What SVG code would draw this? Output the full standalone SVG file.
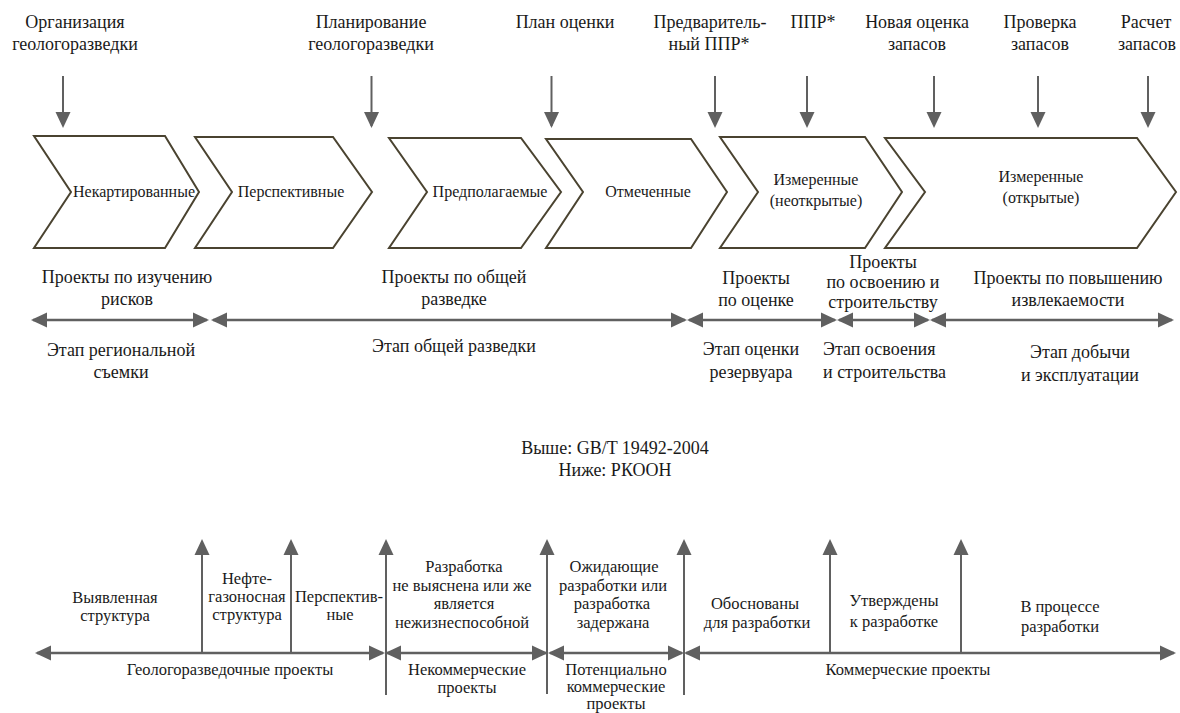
<svg xmlns="http://www.w3.org/2000/svg" width="1180" height="713" viewBox="0 0 1180 713" font-family="'Liberation Serif', 'DejaVu Serif', serif">
<defs>
<style>
text { font-family: 'Liberation Serif', 'DejaVu Serif', serif; fill: #1a1a1a; }
.lbl { font-size: 18px; text-anchor: middle; }
.ct { font-size: 16px; text-anchor: middle; }
.bt { font-size: 16.5px; text-anchor: middle; }
.chev { fill: #ffffff; stroke: #4a4330; stroke-width: 2; stroke-linejoin: miter; }
.va { stroke: #606060; stroke-width: 2; fill: none; }
.ha { stroke: #606060; stroke-width: 2.5; fill: none; }
</style>
<marker id="ah" viewBox="0 0 16 16" refX="14" refY="8" markerWidth="16" markerHeight="16" markerUnits="userSpaceOnUse" orient="auto-start-reverse">
<path d="M0,0.5 L16,8 L0,15.5 Z" fill="#606060"/>
</marker>
</defs>
<rect width="1180" height="713" fill="#ffffff"/>

<!-- top labels -->
<g id="top-labels">
<g id="lbl-org"><text class="lbl" x="75" y="28">Организация</text><text class="lbl" x="75" y="50">геологоразведки</text></g>
<g id="lbl-plan"><text class="lbl" x="371" y="28">Планирование</text><text class="lbl" x="371" y="50">геологоразведки</text></g>
<g id="lbl-ocenka"><text class="lbl" x="565" y="28">План оценки</text></g>
<g id="lbl-prppr"><text class="lbl" x="710" y="28">Предваритель-</text><text class="lbl" x="709" y="50">ный ППР*</text></g>
<g id="lbl-ppr"><text class="lbl" x="813" y="28">ППР*</text></g>
<g id="lbl-new"><text class="lbl" x="917" y="28">Новая оценка</text><text class="lbl" x="917" y="50">запасов</text></g>
<g id="lbl-check"><text class="lbl" x="1040" y="28">Проверка</text><text class="lbl" x="1040" y="50">запасов</text></g>
<g id="lbl-calc"><text class="lbl" x="1146" y="28">Расчет</text><text class="lbl" x="1147" y="50">запасов</text></g>
</g>

<!-- chevrons -->
<g id="chev-1"><polygon class="chev" points="34,136 165,136 199,192 165,248 34,248 71,192"/><text class="ct" x="134" y="197">Некартированные</text></g>
<g id="chev-2"><polygon class="chev" points="195,137 333,137 372,192 333,248 195,248 232,192"/><text class="ct" x="291" y="197">Перспективные</text></g>
<g id="chev-3"><polygon class="chev" points="389,138 521,138 561,192 521,248 389,248 427,192"/><text class="ct" x="490" y="197">Предполагаемые</text></g>
<g id="chev-4"><polygon class="chev" points="546,139 691,139 727,192 691,248 546,248 583,192"/><text class="ct" x="648" y="197">Отмеченные</text></g>
<g id="chev-5"><polygon class="chev" points="720,137 865,137 902,192 865,248 720,248 758,192"/><text class="ct" x="816" y="185">Измеренные</text><text class="ct" x="816" y="206">(неоткрытые)</text></g>
<g id="chev-6"><polygon class="chev" points="885,138 1137,138 1176,192 1137,248 885,248 925,192"/><text class="ct" x="1041" y="182">Измеренные</text><text class="ct" x="1041" y="203">(открытые)</text></g>

<!-- middle project labels -->
<g id="proj-risk"><text class="lbl" x="127" y="283">Проекты по изучению</text><text class="lbl" x="127" y="305">рисков</text></g>
<g id="proj-general"><text class="lbl" x="454" y="283">Проекты по общей</text><text class="lbl" x="454" y="305">разведке</text></g>
<g id="proj-eval"><text class="lbl" x="756" y="284">Проекты</text><text class="lbl" x="756" y="306">по оценке</text></g>
<g id="proj-build"><text class="lbl" x="883" y="268">Проекты</text><text class="lbl" x="883" y="288">по освоению и</text><text class="lbl" x="883" y="308">строительству</text></g>
<g id="proj-recov"><text class="lbl" x="1068" y="284">Проекты по повышению</text><text class="lbl" x="1068" y="306">извлекаемости</text></g>

<!-- stage labels -->
<g id="stage-reg"><text class="lbl" x="121" y="356">Этап региональной</text><text class="lbl" x="121" y="378">съемки</text></g>
<g id="stage-gen"><text class="lbl" x="454" y="352">Этап общей разведки</text></g>
<g id="stage-eval"><text class="lbl" x="751" y="355">Этап оценки</text><text class="lbl" x="751" y="378">резервуара</text></g>
<g id="stage-build"><text class="lbl" x="823" y="355" style="text-anchor:start">Этап освоения</text><text class="lbl" x="823" y="378" style="text-anchor:start">и строительства</text></g>
<g id="stage-prod"><text class="lbl" x="1080" y="358">Этап добычи</text><text class="lbl" x="1080" y="381">и эксплуатации</text></g>

<!-- legend -->
<g id="legend"><text class="lbl" x="615" y="454">Выше: GB/T 19492-2004</text><text class="lbl" x="615" y="476">Ниже: РКООН</text></g>

<!-- bottom labels -->
<g id="b-struct"><text class="bt" x="115" y="603">Выявленная</text><text class="bt" x="115" y="621">структура</text></g>
<g id="b-oilgas"><text class="bt" x="247" y="584">Нефте-</text><text class="bt" x="247" y="602">газоносная</text><text class="bt" x="247" y="620">структура</text></g>
<g id="b-persp"><text class="bt" x="339" y="602">Перспектив-</text><text class="bt" x="340" y="620">ные</text></g>
<g id="b-unclear"><text class="bt" x="464" y="572">Разработка</text><text class="bt" x="462" y="591">не выяснена или же</text><text class="bt" x="464" y="609">является</text><text class="bt" x="462" y="628">нежизнеспособной</text></g>
<g id="b-pending"><text class="bt" x="614" y="572">Ожидающие</text><text class="bt" x="613" y="591">разработки или</text><text class="bt" x="612" y="609">разработка</text><text class="bt" x="613" y="628">задержана</text></g>
<g id="b-justified"><text class="bt" x="755" y="609">Обоснованы</text><text class="bt" x="757" y="628">для разработки</text></g>
<g id="b-approved"><text class="bt" x="894" y="606">Утверждены</text><text class="bt" x="894" y="627">к разработке</text></g>
<g id="b-progress"><text class="bt" x="1060" y="612">В процессе</text><text class="bt" x="1060" y="632">разработки</text></g>
<g id="b-geo"><text class="bt" x="230" y="675">Геологоразведочные проекты</text></g>
<g id="b-noncom"><text class="bt" x="467" y="675">Некоммерческие</text><text class="bt" x="467" y="693">проекты</text></g>
<g id="b-potential"><text class="bt" x="616" y="675">Потенциально</text><text class="bt" x="616" y="692">коммерческие</text><text class="bt" x="616" y="709">проекты</text></g>
<g id="b-com"><text class="bt" x="908" y="675">Коммерческие проекты</text></g>

<!-- connectors -->
<g id="connectors">
<line class="va" x1="63" y1="76" x2="63" y2="126" marker-end="url(#ah)"/>
<line class="va" x1="371.5" y1="76" x2="371.5" y2="126" marker-end="url(#ah)"/>
<line class="va" x1="551.5" y1="76" x2="551.5" y2="126" marker-end="url(#ah)"/>
<line class="va" x1="715" y1="76" x2="715" y2="126" marker-end="url(#ah)"/>
<line class="va" x1="807" y1="76" x2="807" y2="126" marker-end="url(#ah)"/>
<line class="va" x1="934" y1="76" x2="934" y2="126" marker-end="url(#ah)"/>
<line class="va" x1="1038" y1="76" x2="1038" y2="126" marker-end="url(#ah)"/>
<line class="va" x1="1148" y1="76" x2="1148" y2="126" marker-end="url(#ah)"/>

<line class="ha" x1="33" y1="320" x2="207" y2="320" marker-start="url(#ah)" marker-end="url(#ah)"/>
<line class="ha" x1="213" y1="320" x2="685" y2="320" marker-start="url(#ah)" marker-end="url(#ah)"/>
<line class="ha" x1="689" y1="320" x2="835" y2="320" marker-start="url(#ah)" marker-end="url(#ah)"/>
<line class="ha" x1="839" y1="320" x2="928" y2="320" marker-start="url(#ah)" marker-end="url(#ah)"/>
<line class="ha" x1="932" y1="320" x2="1172" y2="320" marker-start="url(#ah)" marker-end="url(#ah)"/>

<line class="ha" x1="37" y1="653" x2="383" y2="653" marker-start="url(#ah)" marker-end="url(#ah)"/>
<line class="ha" x1="387" y1="653" x2="546" y2="653" marker-start="url(#ah)" marker-end="url(#ah)"/>
<line class="ha" x1="550" y1="653" x2="682" y2="653" marker-start="url(#ah)" marker-end="url(#ah)"/>
<line class="ha" x1="686" y1="653" x2="1174" y2="653" marker-start="url(#ah)" marker-end="url(#ah)"/>

<line class="va" x1="202" y1="653" x2="202" y2="541" marker-end="url(#ah)"/>
<line class="va" x1="291" y1="653" x2="291" y2="541" marker-end="url(#ah)"/>
<line class="va" x1="386" y1="695" x2="386" y2="541" marker-end="url(#ah)"/>
<line class="va" x1="547" y1="694" x2="547" y2="541" marker-end="url(#ah)"/>
<line class="va" x1="684" y1="695" x2="684" y2="541" marker-end="url(#ah)"/>
<line class="va" x1="830" y1="653" x2="830" y2="541" marker-end="url(#ah)"/>
<line class="va" x1="961" y1="653" x2="961" y2="541" marker-end="url(#ah)"/>
</g>
</svg>
